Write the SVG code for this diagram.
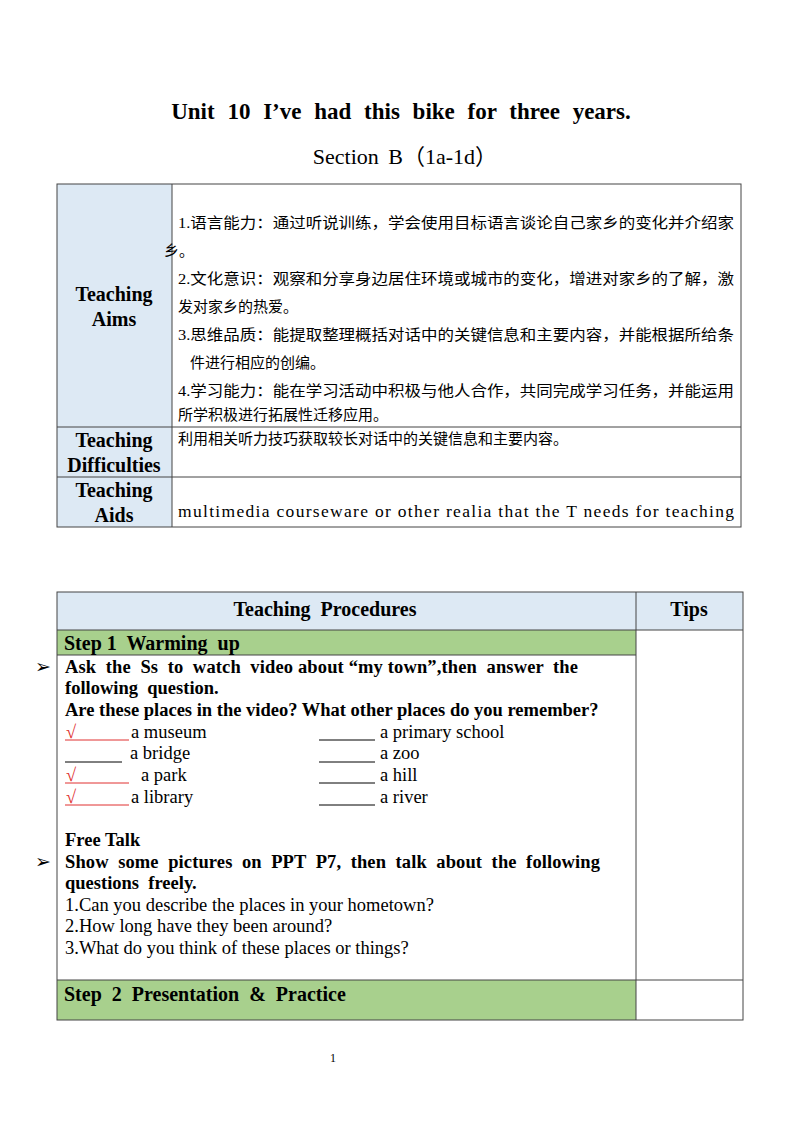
<svg xmlns="http://www.w3.org/2000/svg" width="800" height="1132" viewBox="0 0 800 1132">
<style>
text{font-family:"Liberation Serif","Noto Sans CJK SC",serif;fill:#000;white-space:pre}
.b{font-weight:bold}
.cn{font-family:"Liberation Serif","Noto Sans CJK SC",serif;font-size:15px}
.t{font-size:18.5px}
.h{font-size:20px}
.cell{stroke:#444;stroke-width:1;fill:none}
.blue{fill:#dde9f4}
.green{fill:#a8d08d}
.ul{stroke:#000;stroke-width:1}
.rul{stroke:#e03030;stroke-width:1}
.red{fill:#e03030}
.arr{font-family:"DejaVu Sans",sans-serif;font-size:19px}
</style>
<rect width="800" height="1132" fill="#fff"/>
<g id="title">
<text x="401" y="119" text-anchor="middle" class="b" font-size="23" word-spacing="7">Unit 10 I’ve had this bike for three years.</text>
<text x="405" y="164" text-anchor="middle" font-size="22" word-spacing="4">Section B（1a-1d）</text>
</g>
<g id="table1">
<rect x="57" y="184" width="115" height="343" class="blue"/>
<rect x="57" y="184" width="684" height="343" class="cell"/>
<line x1="172" y1="184" x2="172" y2="527" class="cell"/>
<line x1="57" y1="427" x2="741" y2="427" class="cell"/>
<line x1="57" y1="477" x2="741" y2="477" class="cell"/>
<text x="114" y="301" text-anchor="middle" class="b h">Teaching</text>
<text x="114" y="326" text-anchor="middle" class="b h">Aims</text>
<text x="114" y="447" text-anchor="middle" class="b h">Teaching</text>
<text x="114" y="472" text-anchor="middle" class="b h">Difficulties</text>
<text x="114" y="497" text-anchor="middle" class="b h">Teaching</text>
<text x="114" y="522" text-anchor="middle" class="b h">Aids</text>
<text x="178" y="228" class="cn" textLength="556" lengthAdjust="spacingAndGlyphs">1.语言能力：通过听说训练，学会使用目标语言谈论自己家乡的变化并介绍家</text>
<text x="164" y="256" class="cn">乡。</text>
<text x="178" y="284" class="cn" textLength="556" lengthAdjust="spacingAndGlyphs">2.文化意识：观察和分享身边居住环境或城市的变化，增进对家乡的了解，激</text>
<text x="178" y="312" class="cn">发对家乡的热爱。</text>
<text x="178" y="340" class="cn" textLength="556" lengthAdjust="spacingAndGlyphs">3.思维品质：能提取整理概括对话中的关键信息和主要内容，并能根据所给条</text>
<text x="190" y="368" class="cn">件进行相应的创编。</text>
<text x="178" y="396" class="cn" textLength="556" lengthAdjust="spacingAndGlyphs">4.学习能力：能在学习活动中积极与他人合作，共同完成学习任务，并能运用</text>
<text x="178" y="420" class="cn">所学积极进行拓展性迁移应用。</text>
<text x="178" y="444" class="cn">利用相关听力技巧获取较长对话中的关键信息和主要内容。</text>
<text x="178" y="517" font-size="17.5" textLength="556" lengthAdjust="spacing">multimedia courseware or other realia that the T needs for teaching</text>
</g>
<g id="table2">
<rect x="57" y="592" width="686" height="38" class="blue"/>
<rect x="57" y="630" width="579" height="25" class="green"/>
<rect x="57" y="980" width="579" height="40" class="green"/>
<rect x="57" y="592" width="686" height="428" class="cell"/>
<line x1="636" y1="592" x2="636" y2="1020" class="cell"/>
<line x1="57" y1="630" x2="743" y2="630" class="cell"/>
<line x1="57" y1="655" x2="636" y2="655" class="cell"/>
<line x1="57" y1="980" x2="743" y2="980" class="cell"/>
<text x="325" y="616" text-anchor="middle" class="b h">Teaching  Procedures</text>
<text x="689" y="616" text-anchor="middle" class="b h">Tips</text>
<text x="64" y="650" class="b h">Step 1  Warming  up</text>
<text x="64" y="1001" class="b h">Step  2  Presentation  &amp;  Practice</text>
<text x="35" y="673" class="arr">➢</text>
<text x="35" y="868" class="arr">➢</text>
<text x="65" y="673" class="b t" textLength="513" lengthAdjust="spacing">Ask  the  Ss  to  watch  video about “my town”,then  answer  the</text>
<text x="65" y="694" class="b t">following  question.</text>
<text x="65" y="716" class="b t">Are these places in the video? What other places do you remember?</text>
<text x="66" y="738" class="t red">√</text><line x1="65" y1="740" x2="129" y2="740" class="rul"/>
<text x="131" y="738" class="t">a museum</text>
<line x1="65" y1="762" x2="122" y2="762" class="ul"/><text x="130" y="759" class="t">a bridge</text>
<text x="66" y="781" class="t red">√</text><line x1="65" y1="783" x2="129" y2="783" class="rul"/>
<text x="141" y="781" class="t">a park</text>
<text x="66" y="803" class="t red">√</text><line x1="65" y1="805" x2="129" y2="805" class="rul"/>
<text x="131" y="803" class="t">a library</text>
<line x1="319" y1="740" x2="375" y2="740" class="ul"/><text x="380" y="738" class="t">a primary school</text>
<line x1="319" y1="762" x2="375" y2="762" class="ul"/><text x="380" y="759" class="t">a zoo</text>
<line x1="319" y1="783" x2="375" y2="783" class="ul"/><text x="380" y="781" class="t">a hill</text>
<line x1="319" y1="805" x2="375" y2="805" class="ul"/><text x="380" y="803" class="t">a river</text>
<text x="65" y="846" class="b t">Free Talk</text>
<text x="65" y="868" class="b t" textLength="535" lengthAdjust="spacing">Show  some  pictures  on  PPT  P7,  then  talk  about  the  following</text>
<text x="65" y="889" class="b t">questions  freely.</text>
<text x="65" y="911" class="t">1.Can you describe the places in your hometown?</text>
<text x="65" y="932" class="t">2.How long have they been around?</text>
<text x="65" y="954" class="t">3.What do you think of these places or things?</text>
</g>
<text x="330" y="1062" font-size="12">1</text>
</svg>
